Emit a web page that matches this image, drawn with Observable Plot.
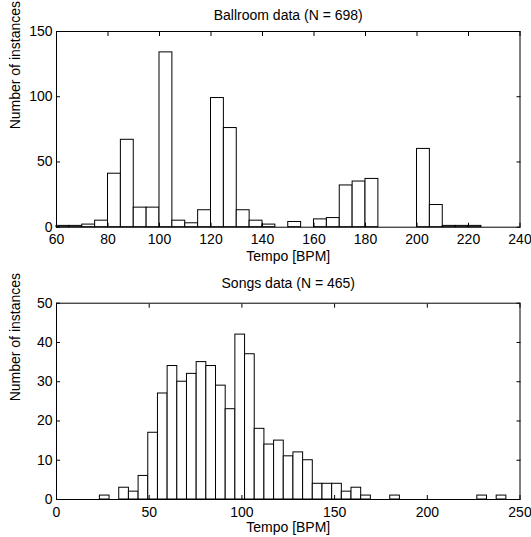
<!DOCTYPE html>
<html><head><meta charset="utf-8">
<script src="https://cdn.jsdelivr.net/npm/d3@7"></script>
<script src="https://cdn.jsdelivr.net/npm/@observablehq/plot@0.6"></script>
<style>body{margin:0;background:#fff} #chart svg{display:block}</style>
</head><body><div id="chart"></div>
<script>
const ballroomTitle = "Ballroom data (N = 698)";
const songsTitle = "Songs data (N = 465)";
const xLabel = "Tempo [BPM]";
const yLabel = "Number of instances";

const ballroomBinStart = 60;
const ballroomBinWidth = 5;
const ballroomCounts = [1,1,2,5,41,67,15,15,134,5,3,13,99,76,13,5,2,0,4,0,6,7,32,35,37,0,0,0,60,17,1,1,1];

const songsBinStart = 23.4;
const songsBinWidth = 5.22;
const songsCounts = [1,0,3,2,6,17,27,34,30,32,35,34,29,23,42,37,18,14,15,11,12,10,4,4,4,2,3,1,0,0,1,0,0,0,0,0,0,0,0,1,0,1];

const ballroomXTicks = [60,80,100,120,140,160,180,200,220,240];
const ballroomYTicks = [0,50,100,150];
const songsXTicks = [0,50,100,150,200,250];
const songsYTicks = [0,10,20,30,40,50];

function bins(start, width, counts) {
  return counts.map((c, i) => ({x1: start + i * width, x2: start + (i + 1) * width, count: c}));
}

function histogram(o) {
  return Plot.plot({
    width: 531, height: o.height,
    marginLeft: 56, marginRight: 11.5, marginTop: o.marginTop, marginBottom: o.marginBottom,
    style: {fontSize: "14px", fontFamily: "'Liberation Sans', Arial, Helvetica, sans-serif", color: "black", background: "white"},
    x: {domain: o.xDomain},
    y: {domain: o.yDomain},
    marks: [
      Plot.rect(bins(o.start, o.width, o.counts), {x1: "x1", x2: "x2", y1: 0, y2: "count", fill: "white", stroke: "black", strokeWidth: 1}),
      Plot.frame({stroke: "black"}),
      Plot.axisX({ticks: o.xTicks, anchor: "bottom", tickSize: -4, fill: "none", label: null}),
      Plot.axisX({ticks: o.xTicks, anchor: "top", tickSize: -4, fill: "none", label: null}),
      Plot.axisX({ticks: o.xTicks, anchor: "bottom", tickSize: 0, tickPadding: o.xTickPad, label: null}),
      Plot.axisY({ticks: o.yTicks, anchor: "left", tickSize: -4, fill: "none", label: null}),
      Plot.axisY({ticks: o.yTicks, anchor: "right", tickSize: -4, fill: "none", label: null}),
      Plot.axisY({ticks: o.yTicks, anchor: "left", tickSize: 0, tickPadding: 4, label: null}),
      Plot.text([o.title], {text: d => d, frameAnchor: "top", dy: o.titleDy, lineAnchor: "middle"}),
      Plot.text([xLabel], {text: d => d, frameAnchor: "bottom", dy: o.xLabelDy, lineAnchor: "middle"}),
      Plot.text([yLabel], {text: d => d, frameAnchor: "left", dx: -46, rotate: -90, lineAnchor: "top"})
    ]
  });
}

const chart = document.getElementById("chart");
chart.append(histogram({
  title: ballroomTitle, counts: ballroomCounts, start: ballroomBinStart, width: ballroomBinWidth,
  xDomain: [60, 240], yDomain: [0, 150], xTicks: ballroomXTicks, yTicks: ballroomYTicks,
  height: 265, marginTop: 31, marginBottom: 38.3, titleDy: -16, xLabelDy: 29, xTickPad: 7
}));
chart.append(histogram({
  title: songsTitle, counts: songsCounts, start: songsBinStart, width: songsBinWidth,
  xDomain: [0, 250], yDomain: [0, 50], xTicks: songsXTicks, yTicks: songsYTicks,
  height: 272, marginTop: 37.7, marginBottom: 38, titleDy: -20, xLabelDy: 28, xTickPad: 8
}));
</script>
</body></html>
